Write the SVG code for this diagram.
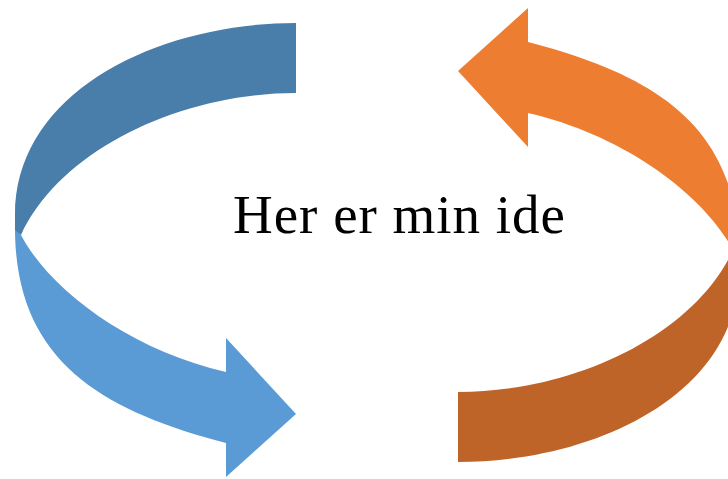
<svg xmlns="http://www.w3.org/2000/svg" width="728" height="479" viewBox="0 0 728 479">
<style>
.blue-light{fill:#5B9BD5}
.blue-dark{fill:#497DAA}
.orange-light{fill:#ED7D31}
.orange-dark{fill:#BF6428}
.label{font-family:"Liberation Serif","DejaVu Serif",serif;font-size:55px;fill:#000}
</style>
<defs>
<path id="front" d="M15,228 C15,360 100,410 226,443 L226,477 L296,414 L226,338 L226,372 C130,350 50,290 21,235 Z"/>
<path id="back" d="M296,23 C160,23 15,90 15,215 L15,230 L21,235 C60,150 180,93 296,93 Z"/>
</defs>
<g id="connectors">
<g id="arrow-blue">
<use href="#front" class="blue-light"/>
<use href="#back" class="blue-dark"/>
</g>
<g id="arrow-orange" transform="rotate(180 377 242.5)">
<use href="#front" class="orange-light"/>
<use href="#back" class="orange-dark"/>
</g>
</g>
<g id="node-idea">
<text class="label" x="233" y="233" textLength="332" lengthAdjust="spacing">Her er min ide</text>
</g>
</svg>
